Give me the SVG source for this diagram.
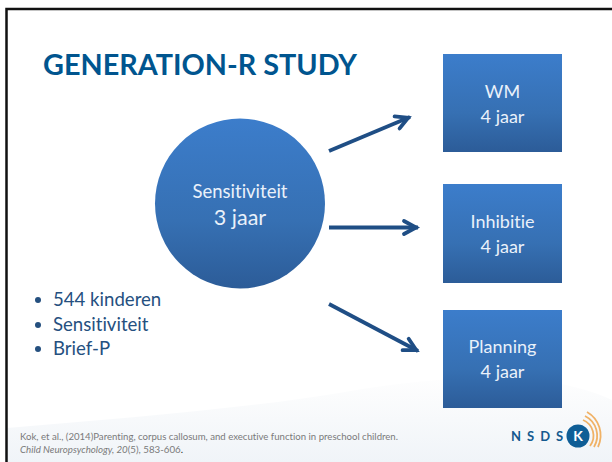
<svg xmlns="http://www.w3.org/2000/svg" width="612" height="462" viewBox="0 0 612 462">
<style>
text{font-family:Lato,"Open Sans",sans-serif;font-variant-ligatures:none}
.n{fill:#eaf1fa;text-anchor:middle;font-size:18px}
.b{fill:#25507f;font-size:18.600px}
.bu{fill:#25507f}
.r{font-size:9.500px;fill:#7a7a7a}
.c{fill:none;stroke:#1f4e85;stroke-width:3.800;marker-end:url(#a)}
</style>
<defs>
<linearGradient id="g" x1="0" y1="0" x2="0" y2="1"><stop offset="0" stop-color="#3c7dcb"/><stop offset="0.6" stop-color="#3670b3"/><stop offset="1" stop-color="#2c5c98"/></linearGradient>
<linearGradient id="w" x1="0" y1="0" x2="0" y2="1"><stop offset="0" stop-color="#fefefe"/><stop offset="1" stop-color="#f0f4f8"/></linearGradient>
<marker id="a" markerUnits="userSpaceOnUse" markerWidth="28" markerHeight="28" refX="23" refY="14" orient="auto" overflow="visible"><path d="M9 7.500L21 14L9 20.500" fill="none" stroke="#1f4e85" stroke-width="3.800" stroke-linecap="round"/></marker>
</defs>
<rect width="612" height="462" fill="#fff"/>
<path d="M7 428C130 418 250 408 345 392C410 381 480 374 530 379C570 384 595 392 612 400V462H7Z" fill="url(#w)"/>
<path d="M6.500 462V9H612" fill="none" stroke="#111" stroke-width="2.500"/>
<text x="43" y="75" font-size="28" font-weight="700" fill="#00558f" textLength="314" lengthAdjust="spacingAndGlyphs">GENERATION-R STUDY</text>
<g id="connectors">
<path class="c" d="M329 151L410 117"/>
<path class="c" d="M329 227.500L418 227.500"/>
<path class="c" d="M329 304L418 351"/>
</g>
<g id="node-sensitiviteit">
<circle cx="240" cy="203.500" r="85" fill="url(#g)"/>
<text class="n" x="240" y="198" style="font-size:18.500px">Sensitiviteit</text>
<text class="n" x="240" y="225" style="font-size:21.500px">3 jaar</text>
</g>
<g id="node-wm">
<rect x="443" y="54" width="119" height="98" fill="url(#g)"/>
<text class="n" x="502.500" y="98">WM</text>
<text class="n" x="502.500" y="123">4 jaar</text>
</g>
<g id="node-inhibitie">
<rect x="443" y="184" width="119" height="99" fill="url(#g)"/>
<text class="n" x="502.500" y="228">Inhibitie</text>
<text class="n" x="502.500" y="253">4 jaar</text>
</g>
<g id="node-planning">
<rect x="443" y="310" width="119" height="98" fill="url(#g)"/>
<text class="n" x="502.500" y="353">Planning</text>
<text class="n" x="502.500" y="378">4 jaar</text>
</g>
<g id="bullets">
<circle class="bu" cx="38" cy="300" r="3"/><text class="b" x="53" y="306">544 kinderen</text>
<circle class="bu" cx="38" cy="325" r="3"/><text class="b" x="53" y="331">Sensitiviteit</text>
<circle class="bu" cx="38" cy="349" r="3"/><text class="b" x="53" y="355">Brief-P</text>
</g>
<g id="reference">
<text class="r" x="20" y="440" textLength="378" lengthAdjust="spacingAndGlyphs">Kok,  et al., (2014)Parenting, corpus callosum, and executive function in preschool children.</text>
<text class="r" x="20" y="453" textLength="163" lengthAdjust="spacingAndGlyphs"><tspan font-style="italic">Child Neuropsychology, 20</tspan>(5), 583-606<tspan fill="#222">.</tspan></text>
</g>
<g id="logo">
<path d="M583 420A17 17 0 0 1 590 446M585 416A22 22 0 0 1 594 447M587 412A27 27 0 0 1 598 447" fill="none" stroke="#f0b266" stroke-width="1.800"/>
<circle cx="578" cy="436" r="11.500" fill="#0f5e96"/>
<text x="578" y="441" text-anchor="middle" font-size="14" font-weight="700" fill="#fff">K</text>
<text x="511" y="441" font-size="13" font-weight="700" fill="#14598f" letter-spacing="6">NSDS</text>
</g>
</svg>
